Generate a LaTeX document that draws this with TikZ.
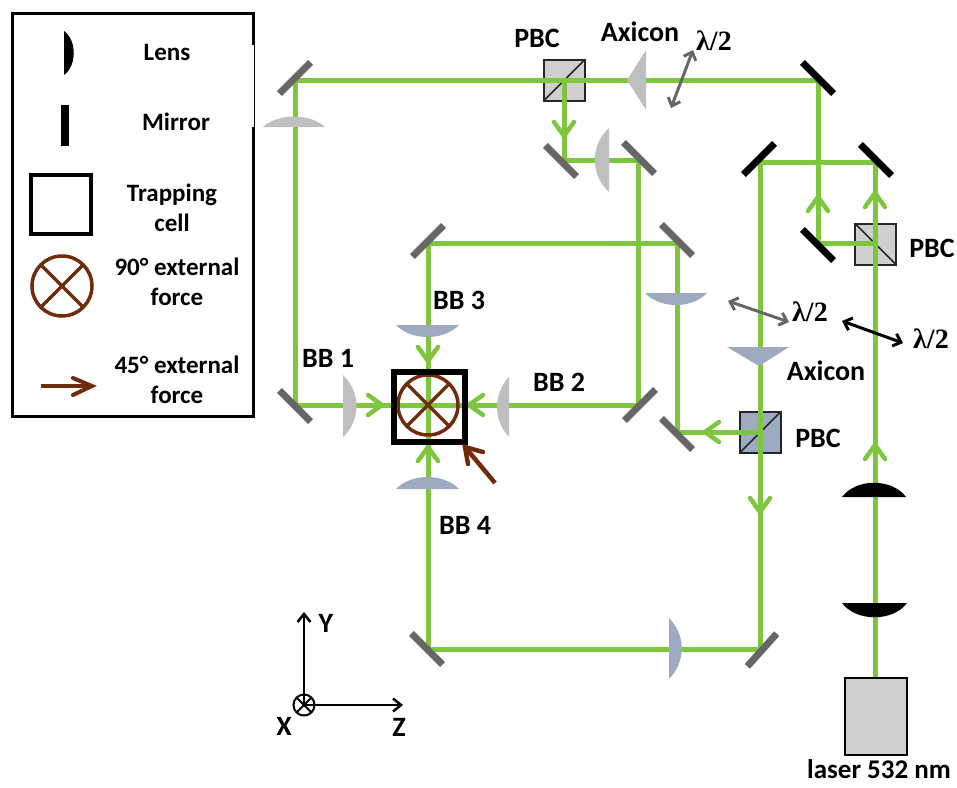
\documentclass[tikz,border=0pt]{standalone}
\usepackage{fontspec}
\setmainfont{Carlito}
\newfontfamily\lamfont{Liberation Serif}
\usetikzlibrary{arrows.meta}
\definecolor{beamgreen}{HTML}{7FC63F}
\definecolor{brownf}{HTML}{6E2C0C}
\definecolor{slate}{HTML}{9DAABF}
\definecolor{lgrey}{HTML}{BFBFBF}
\definecolor{cubegrey}{HTML}{CFCFCF}
\definecolor{mgrey}{HTML}{666666}
\tikzset{
  beam/.style={draw=beamgreen,line width=5pt},
  chev/.style={draw=beamgreen,line width=4.5pt,line cap=round,line join=miter},
  mirrorgray/.style={draw=none,fill=mgrey,minimum width=44pt,minimum height=7pt,inner sep=0pt,outer sep=0pt},
  mirrorblack/.style={draw=none,fill=black,minimum width=44pt,minimum height=7pt,inner sep=0pt,outer sep=0pt},
  cube/.style={draw=black!85,line width=2pt,minimum width=41pt,minimum height=41pt,inner sep=0pt,outer sep=0pt},
  lab/.style={font=\fontsize{28}{28}\selectfont\bfseries,inner sep=0pt},
  leglab/.style={font=\fontsize{25}{30}\selectfont\bfseries,align=center,inner sep=0pt},
  lam/.style={font=\fontsize{28}{28}\selectfont\lamfont\bfseries,inner sep=0pt},
  dbl/.style={line width=3pt,{Straight Barb[length=7pt,width=13pt]}-{Straight Barb[length=7pt,width=13pt]}},
  forcecirc/.style={circle,draw=brownf,line width=3.5pt,minimum size=60pt,inner sep=0pt,outer sep=0pt},
  forceline/.style={draw=brownf,line width=3.5pt},
  box/.style={draw=black,line width=5pt,inner sep=0pt,outer sep=0pt},
}
\newcommand{\chv}[3]{\draw[chev,shift={(#1,#2)},rotate=#3] (-14,-10) -- (0,0) -- (-14,10);}
\begin{document}
\begin{tikzpicture}[x=1pt,y=-1pt]
\useasboundingbox (0,0) rectangle (957,787);
% legend
\node[draw=black,line width=3pt,minimum width=241pt,minimum height=403pt,inner sep=0pt,outer sep=0pt] (legend) at (133,215) {};
\fill[white] (240,45) rectangle (253.6,127);
\fill[black] (64,31) .. controls (77,40) and (77,66) .. (64,75) -- cycle;
\node[fill=black,minimum width=8pt,minimum height=41pt,inner sep=0pt] (legmirror) at (65,125.5) {};
\node[box,line width=4pt,minimum width=60pt,minimum height=59pt] (legcell) at (61,204.5) {};
\node[forcecirc] (legforce) at (62,286) {};
\draw[forceline] (legforce.45) -- (legforce.225) (legforce.135) -- (legforce.315);
\coordinate (legA) at (41,386);
\coordinate (legB) at (92,386);
\draw[draw=brownf,line width=4pt] (legA) -- (legB);
\draw[draw=brownf,line width=4pt,line cap=round] (73,378) -- (92,386) -- (73,395);
\node[leglab] (t1) at (167,52) {Lens};
\node[leglab] (t2) at (176,122) {Mirror};
\node[leglab] (t3) at (172,208) {Trapping\\cell};
\node[leglab] (t4) at (177,282) {90° external\\force};
\node[leglab] (t5) at (177,380) {45° external\\force};
% cubes (under the beams)
\node[cube,fill=cubegrey] (pbc1) at (564.5,80) {};
\draw[black!85,line width=1.5pt] (pbc1.south west) -- (pbc1.north east);
\node[cube,fill=cubegrey] (pbc2) at (875.5,244) {};
\draw[black!85,line width=1.5pt] (pbc2.north west) -- (pbc2.south east);
\node[cube,fill=slate] (pbc3) at (760.5,432) {};
\draw[black!85,line width=1.5pt] (pbc3.south west) -- (pbc3.north east);
\node[draw=black,line width=2pt,fill=cubegrey,minimum width=62pt,minimum height=77pt,inner sep=0pt,outer sep=0pt] (laser) at (875.5,716) {};
% beam corners
\coordinate (a1) at (295,80);
\coordinate (a2) at (295,405);
\coordinate (a3) at (638,405);
\coordinate (a4) at (638,160);
\coordinate (a5) at (564,160);
\coordinate (a6) at (564,80);
\coordinate (a7) at (818,80);
\coordinate (a8) at (818,243);
\coordinate (a9) at (875,243);
\coordinate (b0) at (875,677);
\coordinate (b1) at (875,162);
\coordinate (b2) at (760,162);
\coordinate (b3) at (760,649);
\coordinate (b4) at (428,649);
\coordinate (b5) at (428,243);
\coordinate (b6) at (677,243);
\coordinate (b7) at (677,432);
\coordinate (b8) at (760,432);
\draw[beam] (a7) -- (a1) -- (a2) -- (a3) -- (a4) -- (a5) -- (a6);
\draw[beam] (a7) -- (a8) -- (a9);
\draw[beam] (b0) -- (b1) -- (b2) -- (b3) -- (b4) -- (b5) -- (b6) -- (b7) -- (b8);
% beam arrows
\chv{564}{136}{-90}
\chv{818}{197}{90}
\chv{875}{193}{90}
\chv{875}{445}{90}
\chv{760}{512}{-90}
\chv{705}{432}{180}
\chv{382}{405}{0}
\chv{469}{405}{180}
\chv{428}{361}{-90}
\chv{428}{447}{90}
% mirrors
\node[mirrorgray,rotate=45] (m1) at (295,78) {};
\node[mirrorgray,rotate=-45] (m2) at (295,406) {};
\node[mirrorgray,rotate=45] (m3) at (640,405) {};
\node[mirrorgray,rotate=-45] (m4) at (639,158) {};
\node[mirrorgray,rotate=-45] (m5) at (561,161) {};
\node[mirrorblack,rotate=-45] (m6) at (818,78) {};
\node[mirrorblack,rotate=-45] (m7) at (818,245) {};
\node[mirrorblack,rotate=-45] (m8) at (876,160) {};
\node[mirrorblack,rotate=45] (m9) at (759,159) {};
\node[mirrorgray,rotate=-45] (m10) at (677,240) {};
\node[mirrorgray,rotate=-45] (m11) at (677,434) {};
\node[mirrorgray,rotate=-45] (m12) at (427,649) {};
\node[mirrorgray,rotate=45] (m13) at (428,241) {};
\node[mirrorgray,rotate=48] (m14) at (762,650) {};
% grey lenses
\fill[lgrey] (263,127) .. controls (278,113) and (310,113) .. (325,127) -- cycle;
\fill[lgrey] (609,128) .. controls (590,145) and (590,175) .. (609,192) -- cycle;
\fill[lgrey] (343,375) .. controls (361,392) and (361,420) .. (343,437) -- cycle;
\fill[lgrey] (509,377) .. controls (493,394) and (493,420) .. (509,437) -- cycle;
\fill[lgrey] (627,80) -- (646,50) -- (646,110) -- cycle;
% slate lenses
\fill[slate] (645,293) -- (707,293) .. controls (692,309) and (660,309) .. (645,293) -- cycle;
\fill[slate] (396,325) -- (459,325) .. controls (444,341) and (411,341) .. (396,325) -- cycle;
\fill[slate] (396,489) -- (459,489) .. controls (444,473) and (411,473) .. (396,489) -- cycle;
\fill[slate] (669,618) .. controls (686,635) and (686,662) .. (669,679) -- cycle;
\fill[slate] (727,347) -- (789,347) -- (759,366) -- cycle;
% black lenses
\fill[black] (842,497) -- (906,497) .. controls (892,478) and (856,478) .. (842,497) -- cycle;
\fill[black] (842,603) -- (907,603) .. controls (893,622) and (856,622) .. (842,603) -- cycle;
% trapping cell
\node[forcecirc] (force) at (428,405) {};
\draw[forceline] (force.45) -- (force.225) (force.135) -- (force.315);
\node[box,line width=6pt,minimum width=71pt,minimum height=70pt] (cell) at (429.5,407) {};
\coordinate (fA) at (495,483);
\coordinate (fB) at (465,447);
\draw[draw=brownf,line width=4.5pt] (fA) -- (fB);
\draw[draw=brownf,line width=4.5pt,line cap=round] (468,464) -- (465,447) -- (483,452);
% waveplates
\coordinate (w1a) at (693,50); \coordinate (w1b) at (671,108);
\draw[dbl,draw=mgrey] (w1a) -- (w1b);
\coordinate (w2a) at (728,301); \coordinate (w2b) at (789,322);
\draw[dbl,draw=mgrey] (w2a) -- (w2b);
\coordinate (w3a) at (842,321); \coordinate (w3b) at (903,343);
\draw[dbl,draw=black] (w3a) -- (w3b);
\node[lam] (l1) at (714,41) {λ/2};
\node[lam] (l2) at (810,312) {λ/2};
\node[lam] (l3) at (931,339) {λ/2};
% labels
\node[lab] (p1) at (537,38) {PBC};
\node[lab] (p2) at (932,248) {PBC};
\node[lab] (p3) at (818,438) {PBC};
\node[lab] (x1) at (640,32) {Axicon};
\node[lab] (x2) at (826,371) {Axicon};
\node[lab] (bb1) at (328,358) {BB 1};
\node[lab] (bb2) at (559,382) {BB 2};
\node[lab] (bb3) at (459,300) {BB 3};
\node[lab] (bb4) at (465,525) {BB 4};
\node[inner sep=0pt,font=\fontsize{27}{27}\selectfont\bfseries,anchor=base] (las) at (879,778) {laser 532 nm};
% axes
\node[circle,draw=black,line width=2pt,minimum size=21pt,inner sep=0pt,outer sep=0pt] (ax) at (304,705) {};
\draw[line width=2pt] (ax.45) -- (ax.225) (ax.135) -- (ax.315);
\coordinate (ay) at (304,612);
\coordinate (az) at (403,705);
\draw[line width=2.5pt,-{Straight Barb[length=8pt,width=13pt]}] (ax.center) -- (ay);
\draw[line width=2.5pt,-{Straight Barb[length=8pt,width=13pt]}] (ax.center) -- (az);
\node[lab] (ty) at (326,623) {Y};
\node[lab] (tx) at (284,726) {X};
\node[lab] (tz) at (399,727) {Z};
\end{tikzpicture}
\end{document}
